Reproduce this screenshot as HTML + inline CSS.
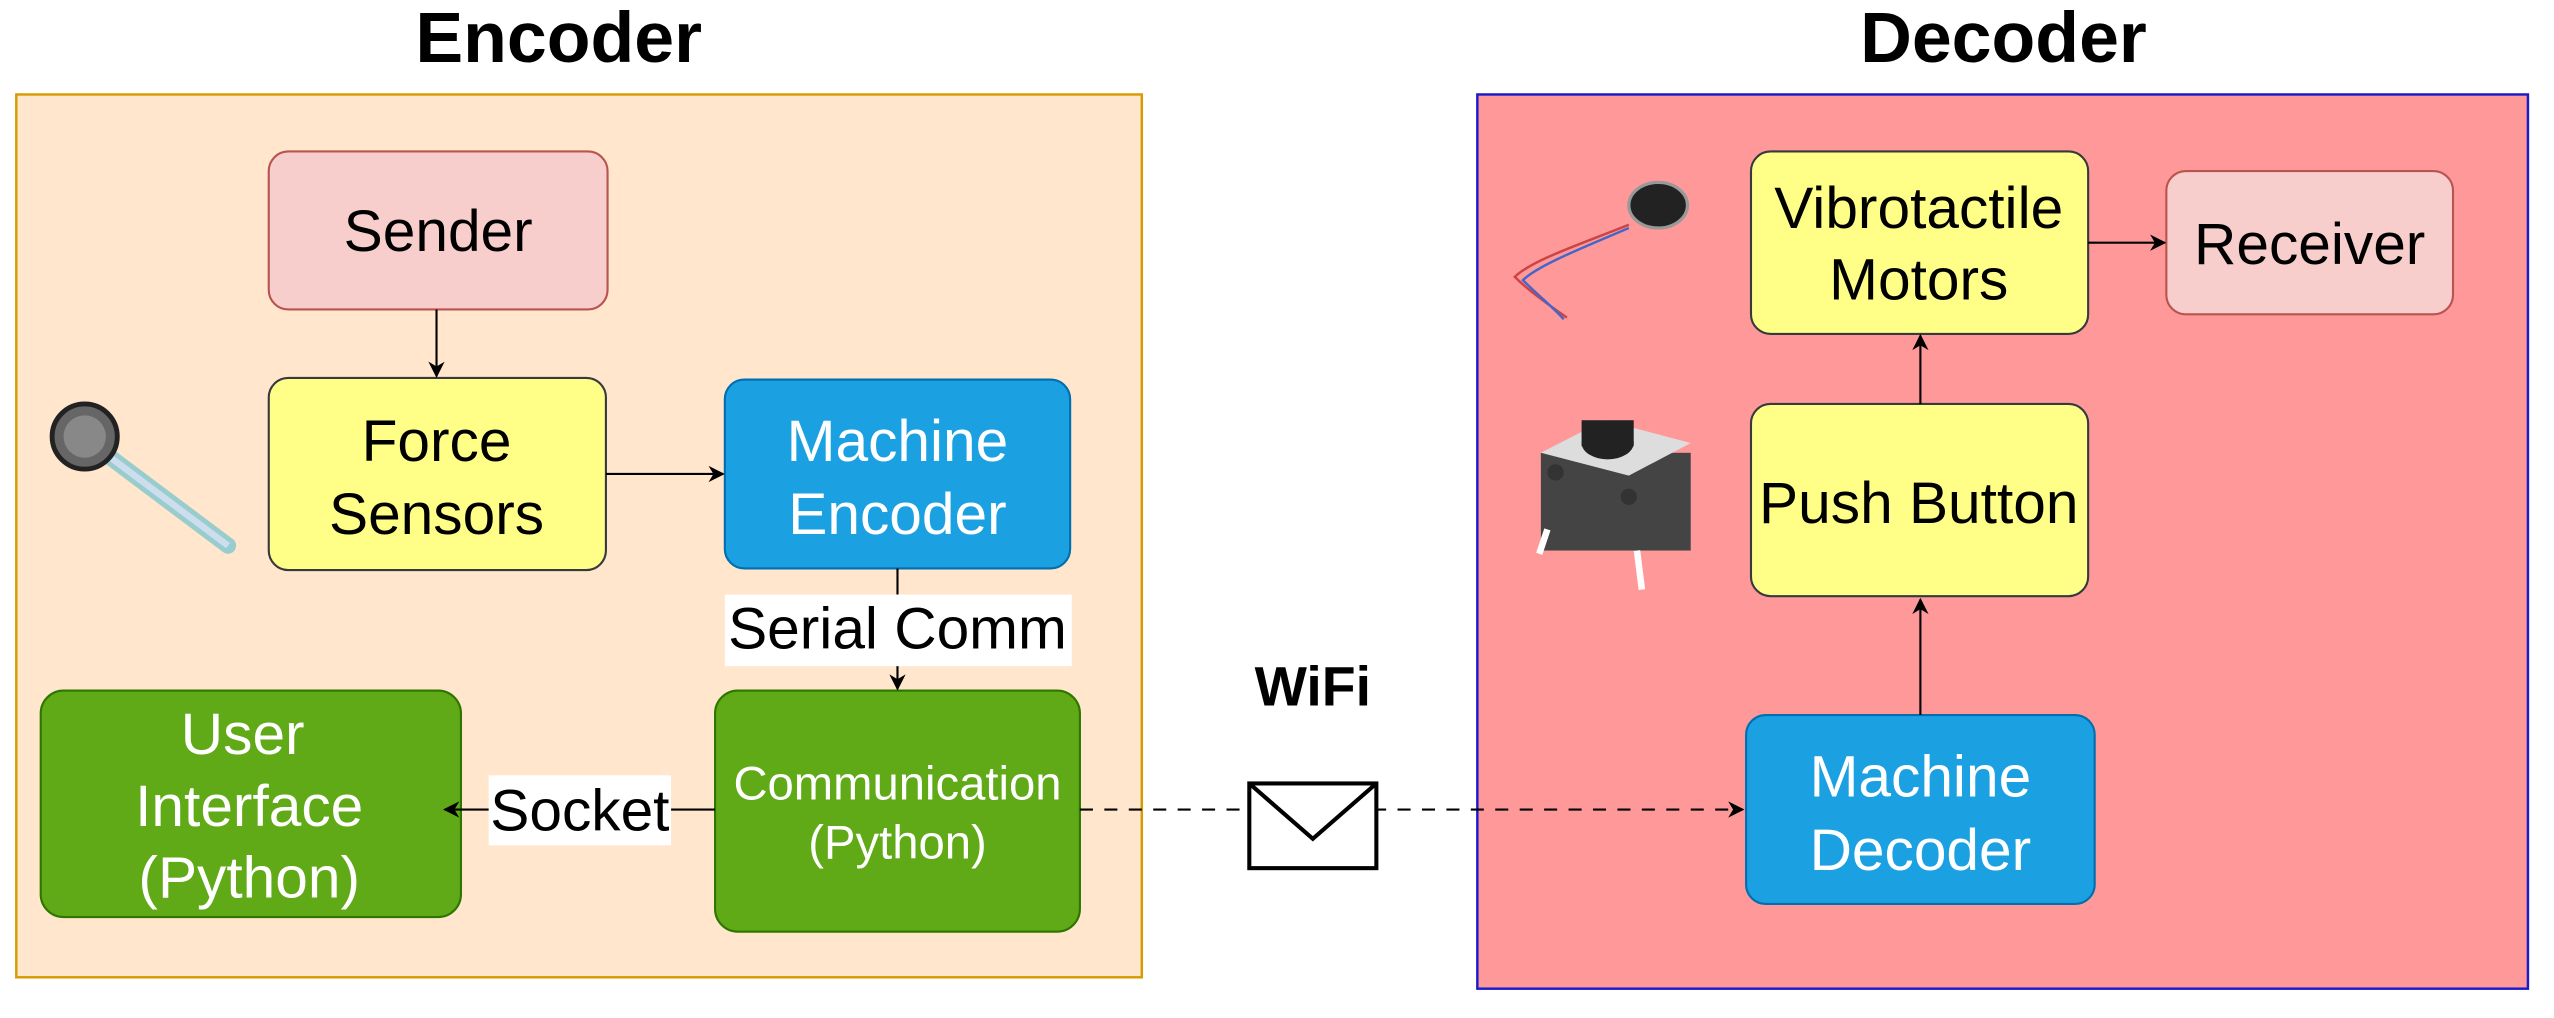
<!DOCTYPE html>
<html><head><meta charset="utf-8"><style>
html,body{margin:0;padding:0;background:#fff;}
svg{display:block;}
text{font-family:"Liberation Sans",sans-serif;}
</style></head><body>
<svg width="2554" height="1018" viewBox="0 0 1568 625" preserveAspectRatio="none" xmlns="http://www.w3.org/2000/svg">
<defs>
<marker id="a" markerWidth="10" markerHeight="10" refX="9" refY="5" orient="auto" markerUnits="userSpaceOnUse"><path d="M0,0 L10,5 L0,10 L3,5 z" fill="#000"/></marker>
</defs>
<text x="343" y="38" font-size="44" font-weight="bold" text-anchor="middle">Encoder</text>
<text x="1230" y="38" font-size="44" font-weight="bold" text-anchor="middle">Decoder</text>
<rect x="10" y="58" width="691" height="542" fill="#ffe6cc" stroke="#d79b00" stroke-width="1.5"/>
<rect x="907" y="58" width="645" height="549" fill="#ff9999" stroke="#1a1acc" stroke-width="1.5"/>

<!-- nodes -->
<rect x="165" y="93" width="208" height="97" rx="12" fill="#f8cecc" stroke="#b85450" stroke-width="1.3"/>
<text x="269" y="154" font-size="36" text-anchor="middle">Sender</text>
<rect x="165" y="232" width="207" height="118" rx="12" fill="#ffff88" stroke="#36393d" stroke-width="1.3"/>
<text x="268" y="283" font-size="36" text-anchor="middle">Force</text>
<text x="268" y="328" font-size="36" text-anchor="middle">Sensors</text>
<rect x="445" y="233" width="212" height="116" rx="12" fill="#1ba1e2" stroke="#006eaf" stroke-width="1.3"/>
<text x="551" y="283" font-size="36" fill="#fff" text-anchor="middle">Machine</text>
<text x="551" y="328" font-size="36" fill="#fff" text-anchor="middle">Encoder</text>
<rect x="439" y="424" width="224" height="148" rx="14" fill="#60a917" stroke="#2d7600" stroke-width="1.3"/>
<text x="551" y="491" font-size="29" fill="#fff" text-anchor="middle">Communication</text>
<text x="551" y="527" font-size="29" fill="#fff" text-anchor="middle">(Python)</text>
<rect x="25" y="424" width="258" height="139" rx="14" fill="#60a917" stroke="#2d7600" stroke-width="1.3"/>
<text x="149" y="463" font-size="36" fill="#fff" text-anchor="middle">User</text>
<text x="153" y="507" font-size="36" fill="#fff" text-anchor="middle">Interface</text>
<text x="153" y="551" font-size="36" fill="#fff" text-anchor="middle">(Python)</text>

<rect x="1075" y="93" width="207" height="112" rx="12" fill="#ffff88" stroke="#36393d" stroke-width="1.3"/>
<text x="1178" y="140" font-size="36" text-anchor="middle">Vibrotactile</text>
<text x="1178" y="184" font-size="36" text-anchor="middle">Motors</text>
<rect x="1330" y="105" width="176" height="88" rx="12" fill="#f8cecc" stroke="#b85450" stroke-width="1.3"/>
<text x="1418" y="162" font-size="36" text-anchor="middle">Receiver</text>
<rect x="1075" y="248" width="207" height="118" rx="12" fill="#ffff88" stroke="#36393d" stroke-width="1.3"/>
<text x="1178" y="321" font-size="36" text-anchor="middle">Push Button</text>
<rect x="1072" y="439" width="214" height="116" rx="12" fill="#1ba1e2" stroke="#006eaf" stroke-width="1.3"/>
<text x="1179" y="489" font-size="36" fill="#fff" text-anchor="middle">Machine</text>
<text x="1179" y="534" font-size="36" fill="#fff" text-anchor="middle">Decoder</text>

<!-- connectors -->
<line x1="268" y1="190" x2="268" y2="231" stroke="#000" stroke-width="1.3" marker-end="url(#a)"/>
<line x1="372" y1="291" x2="444" y2="291" stroke="#000" stroke-width="1.3" marker-end="url(#a)"/>
<line x1="551" y1="349" x2="551" y2="423" stroke="#000" stroke-width="1.3" marker-end="url(#a)"/>
<rect x="445" y="365" width="213" height="44" fill="#fff"/>
<text x="551" y="398" font-size="36" text-anchor="middle">Serial Comm</text>
<line x1="439" y1="497" x2="273" y2="497" stroke="#000" stroke-width="1.3" marker-end="url(#a)"/>
<rect x="300" y="476" width="112" height="43" fill="#fff"/>
<text x="356" y="510" font-size="36" text-anchor="middle">Socket</text>
<line x1="663" y1="497" x2="1070" y2="497" stroke="#000" stroke-width="1.3" stroke-dasharray="8,7" marker-end="url(#a)"/>
<rect x="767" y="481" width="78" height="52" fill="#fff" stroke="#000" stroke-width="2.5"/>
<polyline points="767,481 806,515 845,481" fill="none" stroke="#000" stroke-width="2.5"/>
<text x="806" y="433" font-size="34" font-weight="bold" text-anchor="middle">WiFi</text>
<line x1="1179" y1="439" x2="1179" y2="368" stroke="#000" stroke-width="1.3" marker-end="url(#a)"/>
<line x1="1179" y1="248" x2="1179" y2="206" stroke="#000" stroke-width="1.3" marker-end="url(#a)"/>
<line x1="1282" y1="149" x2="1329" y2="149" stroke="#000" stroke-width="1.3" marker-end="url(#a)"/>

<!-- force sensor image approx -->
<g>
<line x1="60" y1="275" x2="140" y2="335" stroke="#9cc" stroke-width="10" stroke-linecap="round"/>
<line x1="60" y1="275" x2="140" y2="335" stroke="#cde" stroke-width="4"/>
<circle cx="52" cy="268" r="20" fill="#666" stroke="#222" stroke-width="3"/>
<circle cx="52" cy="268" r="13" fill="#888"/>
</g>
<!-- vibration motor approx -->
<g>
<path d="M1000,138 C970,150 940,160 930,170 C940,180 955,190 962,195" fill="none" stroke="#c44" stroke-width="1.5"/>
<path d="M1000,140 C972,152 944,163 935,172 C945,182 955,190 960,196" fill="none" stroke="#46c" stroke-width="1.5"/>
<ellipse cx="1018" cy="126" rx="18" ry="14" fill="#222" stroke="#999" stroke-width="2"/>
</g>
<!-- push button approx -->
<g>
<rect x="946" y="278" width="92" height="60" fill="#444"/>
<polygon points="946,278 985,258 1038,272 1000,292" fill="#ddd"/>
<ellipse cx="987" cy="272" rx="16" ry="10" fill="#222"/>
<rect x="971" y="258" width="32" height="16" fill="#222"/>
<circle cx="955" cy="290" r="5" fill="#333"/><circle cx="1000" cy="305" r="5" fill="#333"/>
<line x1="950" y1="325" x2="945" y2="340" stroke="#fff" stroke-width="4"/>
<line x1="1005" y1="338" x2="1008" y2="362" stroke="#fff" stroke-width="4"/>
</g>
</svg>
</body></html>
